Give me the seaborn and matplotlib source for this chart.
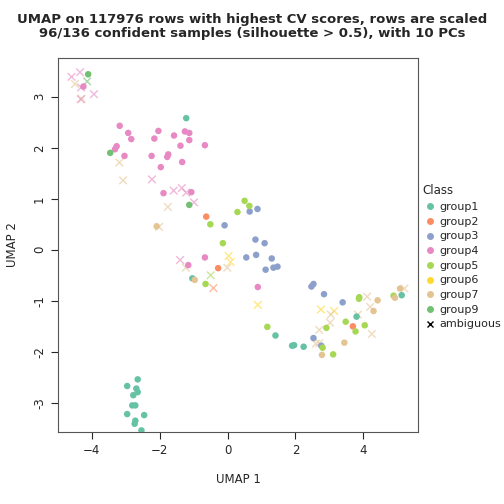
import pandas as pd
import matplotlib
matplotlib.use('Agg')
import matplotlib.pyplot as plt
from matplotlib.lines import Line2D
import seaborn as sns

groups = ['group1', 'group2', 'group3', 'group4', 'group5', 'group6', 'group7', 'group9']
colors = ['#66C2A5', '#FC8D62', '#8DA0CB', '#E78AC3', '#A6D854', '#FFD92F', '#E5C494', '#72C172']

# confident samples, per group
g1_x = [-1.22, -1.04, 3.80, 5.13, 1.41, 1.90, 1.96, 2.24,
        -2.65, -2.96, -2.69, -2.65, -2.78, -2.81, -2.72, -2.96, -2.46, -2.72, -2.74, -2.54]
g1_y = [2.58, -0.56, -1.31, -0.89, -1.68, -1.88, -1.87, -1.90,
        -2.54, -2.67, -2.72, -2.79, -2.85, -3.05, -3.05, -3.22, -3.24, -3.35, -3.41, -3.54]
g2_x = [-0.63, -0.28, 3.69]
g2_y = [0.65, -0.36, -1.50]
g3_x = [0.65, 0.88, -0.09, 0.82, 1.09, 0.55, 0.84, 1.30, 1.12, 1.35, 1.47,
        2.47, 2.53, 2.84, 3.39, 2.53, 2.76]
g3_y = [0.75, 0.80, 0.48, 0.20, 0.13, -0.15, -0.10, -0.17, -0.39, -0.35, -0.33,
        -0.72, -0.67, -0.87, -1.03, -1.73, -1.88]
g4_x = [-4.25, -3.18, -2.93, -2.84, -2.04, -2.16, -1.58, -1.26, -1.13, -1.13, -1.39, -0.67,
        -3.27, -3.32, -3.04, -2.24, -1.75, -1.78, -1.34, -1.97, -1.89, -1.07, -1.16, -0.67,
        0.89]
g4_y = [3.20, 2.43, 2.29, 2.17, 2.33, 2.18, 2.24, 2.32, 2.29, 2.15, 2.04, 2.05,
        2.03, 1.97, 1.84, 1.84, 1.87, 1.82, 1.72, 1.62, 1.11, 1.13, -0.30, -0.15,
        -0.73]
g5_x = [-0.51, 0.50, 0.64, 0.29, -0.14, -0.65, 3.88, 3.87, 4.89, 3.48, 2.91, 4.04, 3.77,
        2.80, 3.11, 1.17]
g5_y = [0.50, 0.96, 0.86, 0.74, 0.13, -0.67, -0.93, -0.96, -0.90, -1.41, -1.53, -1.48, -1.60,
        -1.92, -2.05, -1.51]
g7_x = [-2.09, -0.97, 4.42, 4.30, 5.08, 4.93, 3.44, 2.78]
g7_y = [0.46, -0.59, -0.99, -1.20, -0.76, -0.94, -1.82, -2.06]
g9_x = [-4.11, -3.46, -1.13]
g9_y = [3.44, 1.90, 0.88]

# ambiguous samples, coloured by their nearest group
amb_group = ['group4', 'group4', 'group7', 'group9', 'group4', 'group7', 'group4', 'group7',
             'group7', 'group4', 'group4', 'group4', 'group4', 'group4', 'group7', 'group7',
             'group4', 'group7', 'group6', 'group6', 'group7', 'group5', 'group2', 'group6',
             'group7', 'group7', 'group7', 'group6', 'group6', 'group7', 'group7', 'group7',
             'group7', 'group7', 'group7', 'group7', 'group4']
amb_x = [-4.60, -4.35, -4.50, -4.14, -4.32, -4.30, -3.94, -3.19, -3.08, -2.23, -1.59, -1.35,
         -1.22, -0.99, -1.76, -2.02, -1.40, -1.23, 0.03, 0.09, -0.01, -0.50, -0.42, 0.89,
         4.11, 4.20, 5.21, 2.75, 3.14, 3.04, 3.02, 3.84, 4.25, 2.70, 2.60, 2.70, -4.33]
amb_y = [3.39, 3.48, 3.25, 3.30, 3.18, 2.96, 3.05, 1.71, 1.36, 1.38, 1.16, 1.21, 1.12, 0.93,
         0.84, 0.45, -0.20, -0.35, -0.12, -0.24, -0.35, -0.50, -0.75, -1.08, -0.92, -1.12,
         -0.76, -1.17, -1.20, -1.27, -1.43, -1.27, -1.65, -1.57, -1.84, -1.83, 2.95]

palette = dict(zip(groups, colors))
per_group = {'group1': (g1_x, g1_y), 'group2': (g2_x, g2_y), 'group3': (g3_x, g3_y),
             'group4': (g4_x, g4_y), 'group5': (g5_x, g5_y), 'group7': (g7_x, g7_y),
             'group9': (g9_x, g9_y)}
conf = pd.concat([pd.DataFrame({'x': xs, 'y': ys, 'group': g})
                  for g, (xs, ys) in per_group.items()], ignore_index=True)
amb = pd.DataFrame({'x': amb_x, 'y': amb_y, 'group': amb_group})

sns.set_style('white')
plt.rcParams['font.family'] = ['DejaVu Sans']
fig = plt.figure(figsize=(5.04, 5.04), dpi=100)
ax = fig.add_axes([0.115, 0.143, 0.715, 0.742])
sns.scatterplot(data=amb, x='x', y='y', hue='group', palette=palette, marker='x',
                s=30, linewidth=1, alpha=0.6, legend=False, ax=ax)
sns.scatterplot(data=conf, x='x', y='y', hue='group', palette=palette, marker='o',
                s=22, edgecolor='none', legend=False, ax=ax)
ax.set_xlim(-5.0, 5.62)
ax.set_ylim(-3.57, 3.76)
ax.set_xticks([-4, -2, 0, 2, 4])
ax.set_yticks([-3, -2, -1, 0, 1, 2, 3])
ax.set_yticklabels([-3, -2, -1, 0, 1, 2, 3], rotation=90, va='center')
ax.tick_params(left=True, bottom=True, length=5, labelsize=8.5)
for s in ax.spines.values():
    s.set_color('#555555')
ax.set_xlabel('UMAP 1', fontsize=8.5, labelpad=12)
ax.set_ylabel('UMAP 2', fontsize=8.5, labelpad=10)
fig.suptitle('UMAP on 117976 rows with highest CV scores, rows are scaled\n'
             '96/136 confident samples (silhouette > 0.5), with 10 PCs',
             fontsize=9.5, fontweight='bold', y=0.975, linespacing=1.1)
handles = [Line2D([], [], marker='o', ls='', color=c, markersize=4) for c in colors]
handles.append(Line2D([], [], marker='x', ls='', color='black', markersize=5))
fig.legend(handles, groups + ['ambiguous'], title='Class', loc='upper left',
           bbox_to_anchor=(0.828, 0.645), frameon=False, fontsize=8, title_fontsize=8.5,
           handletextpad=0.3, handlelength=1.2, labelspacing=0.42, borderpad=0,
           alignment='left')
fig.savefig('out.png', dpi=100, facecolor='white')
